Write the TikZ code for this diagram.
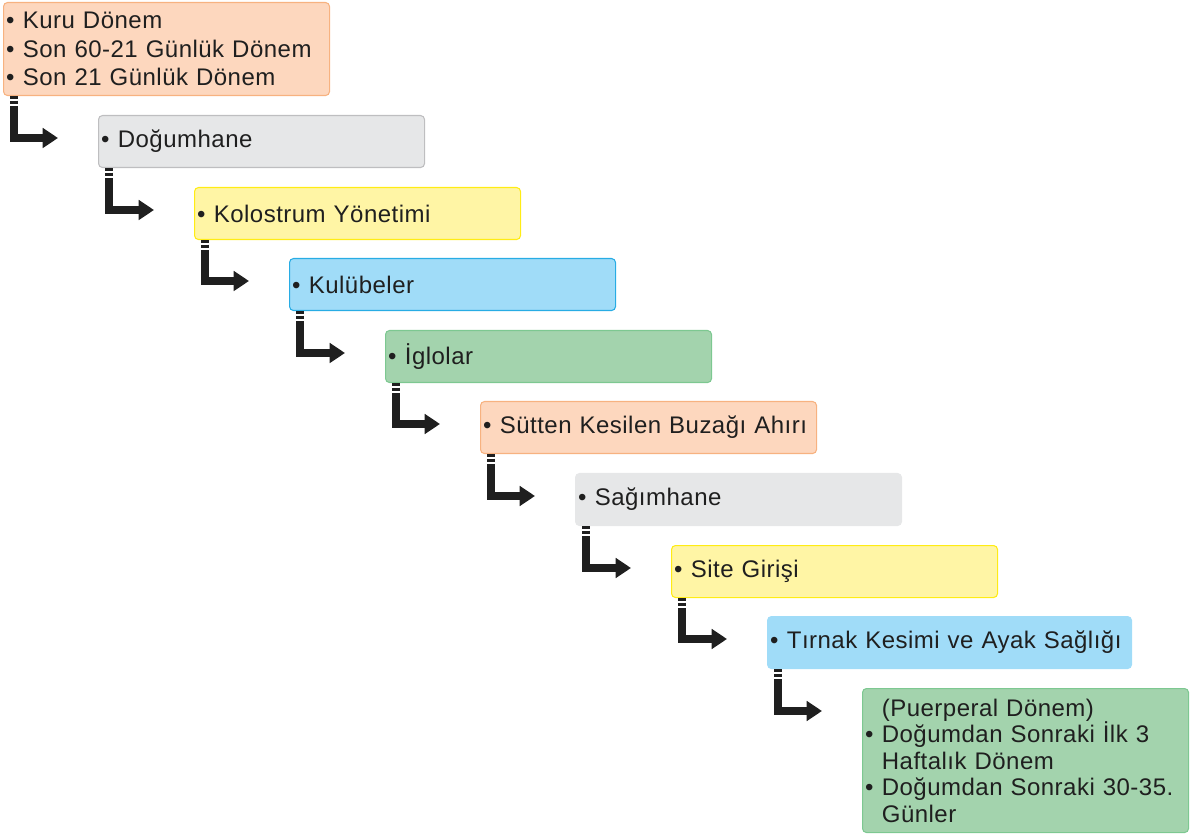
\documentclass[tikz,border=0pt]{standalone}
\usepackage{fontspec}
\setmainfont{Liberation Sans}[LetterSpace=2]
\usetikzlibrary{arrows.meta}

\definecolor{turuncuA}{RGB}{253,215,190}
\definecolor{turuncuB}{RGB}{247,178,128}
\definecolor{griA}{RGB}{230,231,232}
\definecolor{griB}{RGB}{190,190,192}
\definecolor{sariA}{RGB}{255,245,165}
\definecolor{sariB}{RGB}{255,236,20}
\definecolor{maviA}{RGB}{160,220,248}
\definecolor{maviB}{RGB}{40,172,228}
\definecolor{yesilA}{RGB}{163,211,173}
\definecolor{yesilB}{RGB}{125,200,145}

\newcommand{\itm}{\makebox[12.5pt][l]{•}}
\newcommand{\bos}{\hspace*{12.5pt}}

\tikzset{kutu/.style={rounded corners=3pt,anchor=north west,line width=0.8pt,
                      minimum height=39pt,inner xsep=2pt,inner ysep=0pt,
                      text width=240.5pt,align=left,text=black!88,
                      font=\fontsize{18}{21.4}\selectfont}}
\tikzset{baglanti/.style={line width=6.5pt,line join=miter,black!88,
                          dash pattern=on 1.9pt off 1.5pt on 2.6pt off 1.5pt on 400pt,
                          -{Triangle[length=11.5pt,width=14.5pt]}}}

\begin{document}
\begin{tikzpicture}[x=0.75pt,y=-0.75pt]
\useasboundingbox (0,0) rectangle (1190,834);

\node[kutu,fill=turuncuA,draw=turuncuB,minimum height=69.75pt] (kuru) at (3,2)
     {\itm Kuru Dönem\\ \itm Son 60-21 Günlük Dönem\\ \itm Son 21 Günlük Dönem};
\node[kutu,fill=griA,draw=griB] (dogum) at (98,115) {\itm Doğumhane};
\node[kutu,fill=sariA,draw=sariB] (kolostrum) at (194,187) {\itm Kolostrum Yönetimi};
\node[kutu,fill=maviA,draw=maviB] (kulube) at (289,258) {\itm Kulübeler};
\node[kutu,fill=yesilA,draw=yesilB] (iglo) at (385,330) {\itm İglolar};
\node[kutu,fill=turuncuA,draw=turuncuB,text width=248pt] (ahir) at (480,401)
     {\itm Sütten Kesilen Buzağı Ahırı};
\node[kutu,fill=griA,draw=griA] (sagim) at (575,473) {\itm Sağımhane};
\node[kutu,fill=sariA,draw=sariB] (site) at (671,545) {\itm Site Girişi};
\node[kutu,fill=maviA,draw=maviA,text width=269pt] (tirnak) at (767,616)
     {\itm Tırnak Kesimi ve Ayak Sağlığı};
\node[kutu,fill=yesilA,draw=yesilB,minimum height=108pt,
      font=\fontsize{18}{19.9}\selectfont] (puerperal) at (862,688)
     {\bos(Puerperal Dönem)\\ \itm Doğumdan Sonraki İlk 3\\ \bos Haftalık Dönem\\
      \itm Doğumdan Sonraki 30-35.\\ \bos Günler};

% oklar
\foreach \a/\b in {kuru/dogum,dogum/kolostrum,kolostrum/kulube,kulube/iglo,
                   iglo/ahir,ahir/sagim,sagim/site,site/tirnak,tirnak/puerperal}
  \draw[baglanti] ([xshift=8.25pt]\a.south west) |- ([xshift=-30pt,yshift=-17.25pt]\b.north west);
\end{tikzpicture}
\end{document}
